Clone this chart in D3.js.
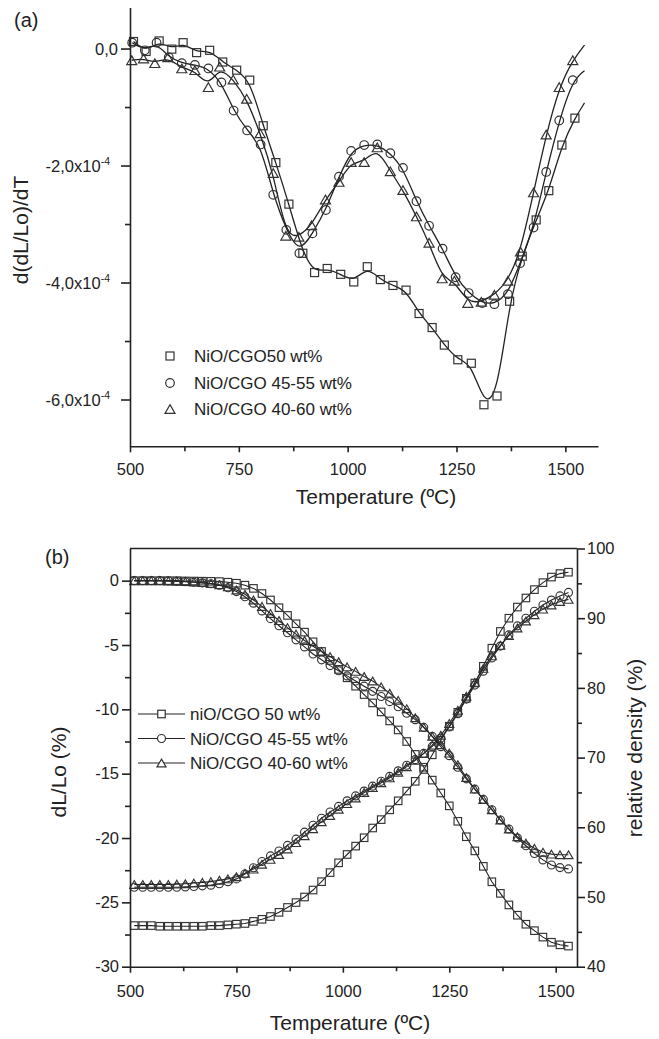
<!DOCTYPE html>
<html>
<head>
<meta charset="utf-8">
<script src="https://cdn.jsdelivr.net/npm/d3@7"></script>
<style>
  html, body { margin: 0; padding: 0; background: #fff; }
  svg { display: block; font-family: "Liberation Sans", Arial, sans-serif; }
</style>
</head>
<body>
<svg id="fig" width="659" height="1039"></svg>
<script>
// ---------- Panel (a): d(dL/Lo)/dT, values in units of 1e-4 ----------
const aLabels = ["NiO/CGO50 wt%", "NiO/CGO 45-55 wt%", "NiO/CGO 40-60 wt%"];
const aXTicks = [500, 750, 1000, 1250, 1500];
const aYTicks = [0, -2, -4, -6];
const aYTickText = ["0,0", "-2,0x10", "-4,0x10", "-6,0x10"];

const aSquareT = [508,537,567,596,622,653,683,713,745,775,806,835,865,897,924,953,984,1014,1045,1075,1104,1134,1164,1194,1222,1253,1284,1313,1343,1372,1401,1433,1462,1492,1522];
const aSquareV = [0.12,-0.05,0.13,-0.01,0.10,-0.07,-0.03,-0.23,-0.37,-0.54,-1.32,-1.95,-2.66,-3.50,-3.83,-3.76,-3.86,-3.99,-3.73,-3.95,-4.05,-4.13,-4.53,-4.77,-5.07,-5.32,-5.38,-6.09,-5.94,-4.32,-3.55,-2.93,-2.43,-1.65,-1.19];

const aCircleT = [505,534,561,589,619,649,680,710,738,769,800,829,859,889,919,950,980,1008,1038,1068,1098,1127,1158,1187,1218,1248,1278,1309,1337,1368,1396,1427,1456,1486,1517];
const aCircleV = [0.10,-0.03,0.10,-0.15,-0.25,-0.28,-0.34,-0.58,-1.06,-1.40,-1.64,-2.50,-3.10,-3.50,-3.16,-2.76,-2.19,-1.75,-1.65,-1.64,-1.79,-2.04,-2.61,-3.03,-3.42,-3.91,-4.18,-4.35,-4.37,-4.20,-3.67,-3.06,-2.11,-1.23,-0.54];

const aTriangleT = [504,531,557,587,619,649,680,706,737,768,799,829,858,888,917,949,980,1008,1038,1068,1098,1127,1158,1187,1217,1245,1276,1307,1337,1368,1397,1427,1456,1486,1517];
const aTriangleV = [-0.20,-0.17,-0.25,-0.15,-0.34,-0.37,-0.66,-0.31,-0.53,-0.86,-1.45,-2.13,-3.20,-3.22,-3.02,-2.58,-2.28,-1.94,-1.94,-1.69,-2.10,-2.42,-2.87,-3.32,-3.93,-3.97,-4.35,-4.33,-4.21,-3.97,-3.47,-2.46,-1.47,-0.66,-0.20];

// the smoothed curves run a little past the last measured point
const aCurveEndT = [1544, 1544, 1544];
const aCurveEndV = [-0.93, -0.38, 0.06];

// ---------- Panel (b): shrinkage dL/Lo (%) and relative density (%) ----------
const bLabels = ["niO/CGO 50 wt%", "NiO/CGO 45-55 wt%", "NiO/CGO 40-60 wt%"];
const bXTicks = [500, 750, 1000, 1250, 1500];
const bLeftTicks = [0, -5, -10, -15, -20, -25, -30];
const bRightTicks = [40, 50, 60, 70, 80, 90, 100];

const bTemp = [510,530,550,570,590,610,630,650,670,690,710,730,750,770,790,810,830,850,870,890,910,930,950,970,990,1010,1030,1050,1070,1090,1110,1130,1150,1170,1190,1210,1230,1250,1270,1290,1310,1330,1350,1370,1390,1410,1430,1450,1470,1490,1510,1530];

const bShrinkSquare = [0,0,0,0,0,0,-0.02,-0.03,-0.04,-0.05,
  -0.07,-0.12,-0.2,-0.35,-0.6,-1.0,-1.5,-2.1,-2.7,-3.35,
  -4.0,-4.75,-5.5,-6.2,-6.9,-7.55,-8.2,-8.85,-9.5,-10.2,
  -10.9,-11.6,-12.5,-13.5,-14.5,-15.5,-16.5,-17.5,-18.7,-19.9,
  -21.0,-22.2,-23.4,-24.3,-25.2,-26.0,-26.7,-27.2,-27.7,-28.1,
  -28.3,-28.4];
const bShrinkCircle = [0,0,0,0,-0.02,-0.05,-0.08,-0.12,-0.17,-0.24,
  -0.35,-0.55,-0.85,-1.25,-1.75,-2.35,-2.95,-3.5,-4.05,-4.6,
  -5.15,-5.7,-6.15,-6.6,-7.0,-7.4,-7.8,-8.2,-8.6,-9.0,
  -9.4,-9.8,-10.3,-10.8,-11.4,-12.1,-12.9,-13.6,-14.5,-15.4,
  -16.2,-17.0,-17.8,-18.6,-19.3,-20.0,-20.6,-21.2,-21.7,-22.1,
  -22.3,-22.4];
const bShrinkTriangle = [0,0,0,0,-0.02,-0.04,-0.07,-0.1,-0.15,-0.22,
  -0.32,-0.48,-0.72,-1.05,-1.5,-2.0,-2.55,-3.1,-3.65,-4.15,
  -4.65,-5.1,-5.5,-5.9,-6.3,-6.7,-7.05,-7.45,-7.8,-8.25,
  -8.75,-9.3,-9.95,-10.65,-11.4,-12.1,-12.75,-13.4,-14.3,-15.3,
  -16.2,-17.0,-17.8,-18.6,-19.3,-19.9,-20.4,-20.8,-21.1,-21.25,
  -21.3,-21.3];

const bDensSquare = [45.9,45.9,45.9,45.8,45.8,45.8,45.8,45.8,45.8,45.9,
  45.9,46.0,46.1,46.2,46.5,46.8,47.2,47.8,48.5,49.2,
  50.0,51.0,52.2,53.5,54.9,56.1,57.3,58.5,59.9,61.1,
  62.5,63.8,65.2,66.6,68.3,70.4,72.5,74.5,76.5,78.5,
  80.7,83.1,85.7,88.1,90.0,91.6,92.9,94.1,95.1,95.9,
  96.4,96.6];
const bDensCircle = [51.4,51.4,51.4,51.4,51.4,51.4,51.45,51.5,51.6,51.7,
  51.9,52.2,52.6,53.3,54.2,55.1,55.9,56.6,57.4,58.3,
  59.3,60.3,61.3,62.2,63.0,63.8,64.5,65.2,65.9,66.6,
  67.3,68.1,68.9,69.7,70.6,71.6,72.8,74.4,76.3,78.4,
  80.4,82.4,84.3,86.0,87.6,88.9,90.0,91.0,91.9,92.6,
  93.2,93.7];
const bDensTriangle = [51.8,51.8,51.8,51.8,51.8,51.85,51.9,52.0,52.1,52.2,
  52.4,52.6,52.9,53.4,54.0,54.7,55.4,56.1,56.9,57.8,
  58.8,59.8,60.8,61.7,62.6,63.4,64.2,65.0,65.7,66.4,
  67.1,67.9,68.7,69.6,70.6,71.8,73.2,74.9,76.8,78.8,
  80.8,82.8,84.6,86.1,87.5,88.6,89.6,90.5,91.3,91.9,
  92.4,92.7];

// ---------- drawing ----------
const INK = "#222";
const plain = d => String(d);   // "1000", "-5": no grouping, ASCII hyphen
const svg = d3.select("#fig");

function marker(g, shape, x, y, s) {
  if (shape === "square") {
    g.append("rect").attr("x", x - s / 2).attr("y", y - s / 2)
      .attr("width", s).attr("height", s);
  } else if (shape === "circle") {
    g.append("circle").attr("cx", x).attr("cy", y).attr("r", s / 2);
  } else {
    const h = s * Math.sqrt(3) / 2;
    g.append("path").attr("d",
      `M${x},${y - h / 2}L${x + s / 2},${y + h / 2}L${x - s / 2},${y + h / 2}Z`);
  }
}
const shapes = ["square", "circle", "triangle"];

function styleAxis(g, fontSize) {
  g.selectAll("path.domain").attr("stroke", INK).attr("stroke-width", 1.6);
  g.selectAll(".tick line").attr("stroke", INK).attr("stroke-width", 1.6);
  g.selectAll(".tick text").attr("fill", INK).attr("font-size", fontSize)
    .attr("font-family", "Liberation Sans, Arial, sans-serif");
}

// ===== Panel (a) =====
const ax = d3.scaleLinear().domain([500, 1575]).range([130, 598]);
const ay = d3.scaleLinear().domain([-6.8, 0.7]).range([446.3, 7.6]);
const pa = svg.append("g");

const aSeries = [
  { shape: "square", T: aSquareT, V: aSquareV },
  { shape: "circle", T: aCircleT, V: aCircleV },
  { shape: "triangle", T: aTriangleT, V: aTriangleV }
];
const aMarkerSize = { square: 8, circle: 8.6, triangle: 10 };
const aLine = d3.line().x(d => ax(d[0])).y(d => ay(d[1])).curve(d3.curveBasis);

aSeries.forEach((s, i) => {
  const pts = s.T.map((t, k) => [t, s.V[k]]);
  pts.push([aCurveEndT[i], aCurveEndV[i]]);
  pa.append("path").attr("d", aLine(pts))
    .attr("fill", "none").attr("stroke", INK).attr("stroke-width", 1.3);
  const mg = pa.append("g").attr("fill", "none").attr("stroke", "#333").attr("stroke-width", 1.2);
  s.T.forEach((t, k) => marker(mg, s.shape, ax(t), ay(s.V[k]), aMarkerSize[s.shape]));
});

// axes (a)
const aXAxis = pa.append("g").attr("transform", `translate(0,${ay(-6.8)})`)
  .call(d3.axisBottom(ax).tickValues(aXTicks).tickFormat(plain)
    .tickSize(6).tickSizeOuter(0).tickPadding(11));
styleAxis(aXAxis, 16.5);
pa.append("g").attr("transform", `translate(0,${ay(-6.8)})`)
  .call(d3.axisBottom(ax).tickValues([625, 875, 1125, 1375]).tickSize(5).tickSizeOuter(0).tickFormat(""))
  .call(g => { g.select("path.domain").remove(); styleAxis(g, 0); });

const aYAxis = pa.append("g").attr("transform", `translate(${ax(500)},0)`)
  .call(d3.axisLeft(ay).tickValues(aYTicks).tickSize(9).tickSizeOuter(0).tickFormat(""));
styleAxis(aYAxis, 16.5);
pa.append("g").attr("transform", `translate(${ax(500)},0)`)
  .call(d3.axisLeft(ay).tickValues([-1, -3, -5]).tickSize(5).tickSizeOuter(0).tickFormat(""))
  .call(g => { g.select("path.domain").remove(); styleAxis(g, 0); });

// y tick labels with the 10^-4 exponent as a superscript
aYTicks.forEach((v, i) => {
  const t = pa.append("text")
    .attr("x", i === 0 ? 118 : 110).attr("y", ay(v) + 6)
    .attr("text-anchor", "end").attr("font-size", 16.5).attr("fill", INK)
    .text(aYTickText[i]);
  if (i > 0) {
    t.append("tspan").attr("dy", -7).attr("font-size", 10.5).text("-4");
  }
});

// legend (a): markers only
const aLegY = [356, 383, 409];
aLabels.forEach((lab, i) => {
  const mg = pa.append("g").attr("fill", "none").attr("stroke", "#333").attr("stroke-width", 1.2);
  marker(mg, shapes[i], 170, aLegY[i], aMarkerSize[shapes[i]]);
  pa.append("text").attr("x", 194).attr("y", aLegY[i] + 6)
    .attr("font-size", 17).attr("fill", INK).text(lab);
});

pa.append("text").attr("x", 376).attr("y", 504).attr("text-anchor", "middle")
  .attr("font-size", 21).attr("fill", INK).text("Temperature (ºC)");
pa.append("text").attr("transform", "translate(28,230) rotate(-90)")
  .attr("text-anchor", "middle").attr("font-size", 21).attr("fill", INK).text("d(dL/Lo)/dT");
pa.append("text").attr("x", 14).attr("y", 27).attr("font-size", 20).attr("fill", INK).text("(a)");

// ===== Panel (b) =====
const bx = d3.scaleLinear().domain([500, 1550]).range([130, 577]);
const byL = d3.scaleLinear().domain([-30, 2.5]).range([966.7, 548.5]);
const byR = d3.scaleLinear().domain([40, 100]).range([966.7, 548.5]);
const pb = svg.append("g");

const bSeries = [
  { shape: "square", shrink: bShrinkSquare, dens: bDensSquare },
  { shape: "circle", shrink: bShrinkCircle, dens: bDensCircle },
  { shape: "triangle", shrink: bShrinkTriangle, dens: bDensTriangle }
];
const bMarkerSize = { square: 7.5, circle: 8, triangle: 9 };

bSeries.forEach(s => {
  [[s.shrink, byL], [s.dens, byR]].forEach(([vals, yScale]) => {
    const line = d3.line().x((d, k) => bx(bTemp[k])).y(d => yScale(d));
    pb.append("path").attr("d", line(vals))
      .attr("fill", "none").attr("stroke", INK).attr("stroke-width", 1.1);
    const mg = pb.append("g").attr("fill", "none").attr("stroke", "#333").attr("stroke-width", 1.15);
    vals.forEach((v, k) => marker(mg, s.shape, bx(bTemp[k]), yScale(v), bMarkerSize[s.shape]));
  });
});

// frame top line
pb.append("line").attr("x1", bx(500)).attr("x2", bx(1550))
  .attr("y1", byL(2.5)).attr("y2", byL(2.5))
  .attr("stroke", INK).attr("stroke-width", 1.6);

const bXAxis = pb.append("g").attr("transform", `translate(0,${byL(-30)})`)
  .call(d3.axisBottom(bx).tickValues(bXTicks).tickFormat(plain)
    .tickSize(6).tickSizeOuter(0).tickPadding(12.5));
styleAxis(bXAxis, 16.5);
pb.append("g").attr("transform", `translate(0,${byL(-30)})`)
  .call(d3.axisBottom(bx).tickValues([625, 875, 1125, 1375]).tickSize(4.5).tickSizeOuter(0).tickFormat(""))
  .call(g => { g.select("path.domain").remove(); styleAxis(g, 0); });

const bLAxis = pb.append("g").attr("transform", `translate(${bx(500)},0)`)
  .call(d3.axisLeft(byL).tickValues(bLeftTicks).tickFormat(plain)
    .tickSize(8).tickSizeOuter(0).tickPadding(3));
styleAxis(bLAxis, 16.5);
pb.append("g").attr("transform", `translate(${bx(500)},0)`)
  .call(d3.axisLeft(byL).tickValues([-2.5, -7.5, -12.5, -17.5, -22.5, -27.5]).tickSize(5).tickSizeOuter(0).tickFormat(""))
  .call(g => { g.select("path.domain").remove(); styleAxis(g, 0); });

const bRAxis = pb.append("g").attr("transform", `translate(${bx(1550)},0)`)
  .call(d3.axisRight(byR).tickValues(bRightTicks).tickFormat(plain)
    .tickSize(8).tickSizeOuter(0).tickPadding(2));
styleAxis(bRAxis, 16.5);
pb.append("g").attr("transform", `translate(${bx(1550)},0)`)
  .call(d3.axisRight(byR).tickValues([45, 55, 65, 75, 85, 95]).tickSize(5).tickSizeOuter(0).tickFormat(""))
  .call(g => { g.select("path.domain").remove(); styleAxis(g, 0); });

// legend (b): line + marker
const bLegY = [714, 738.5, 763];
bLabels.forEach((lab, i) => {
  pb.append("line").attr("x1", 138).attr("x2", 185).attr("y1", bLegY[i]).attr("y2", bLegY[i])
    .attr("stroke", INK).attr("stroke-width", 1.2);
  const mg = pb.append("g").attr("fill", "#fff").attr("stroke", "#333").attr("stroke-width", 1.2);
  marker(mg, shapes[i], 161.5, bLegY[i], bMarkerSize[shapes[i]]);
  pb.append("text").attr("x", 190).attr("y", bLegY[i] + 6)
    .attr("font-size", 17).attr("fill", INK).text(lab);
});

pb.append("text").attr("x", 350).attr("y", 1030).attr("text-anchor", "middle")
  .attr("font-size", 21).attr("fill", INK).text("Temperature (ºC)");
pb.append("text").attr("transform", "translate(66,772) rotate(-90)")
  .attr("text-anchor", "middle").attr("font-size", 21).attr("fill", INK).text("dL/Lo (%)");
pb.append("text").attr("transform", "translate(642,748) rotate(-90)")
  .attr("text-anchor", "middle").attr("font-size", 21).attr("fill", INK).text("relative density (%)");
pb.append("text").attr("x", 45).attr("y", 564).attr("font-size", 20).attr("fill", INK).text("(b)");
</script>
</body>
</html>
